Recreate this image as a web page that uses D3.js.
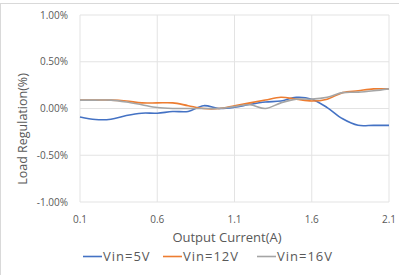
<!DOCTYPE html>
<html><head><meta charset="utf-8">
<script src="https://cdn.jsdelivr.net/npm/d3@7"></script>
<style>body{margin:0;background:#fff}svg{display:block;font-family:"Open Sans","Noto Sans","DejaVu Sans",sans-serif}</style>
</head><body>
<script>
const current = [0.1,0.2,0.3,0.4,0.5,0.6,0.7,0.8,0.9,1.0,1.1,1.2,1.3,1.4,1.5,1.6,1.7,1.8,1.9,2.0,2.1];
const vin5  = [-0.09,-0.118,-0.115,-0.075,-0.05,-0.05,-0.032,-0.032,0.03,0.0,0.013,0.045,0.07,0.08,0.12,0.10,0.01,-0.11,-0.18,-0.18,-0.18];
const vin12 = [0.09,0.09,0.09,0.08,0.06,0.06,0.06,0.03,0.0,0.0,0.03,0.06,0.09,0.12,0.10,0.08,0.10,0.17,0.19,0.21,0.21];
const vin16 = [0.09,0.09,0.09,0.07,0.04,0.01,0.0,0.0,0.0,0.0,0.02,0.04,0.0,0.06,0.10,0.10,0.12,0.17,0.175,0.19,0.21];
const seriesNames = ["Vin=5V","Vin=12V","Vin=16V"];
const colors = ["#4472C4","#ED7D31","#A5A5A5"];
const xTicks = [0.1,0.6,1.1,1.6,2.1];
const yTicks = [-1,-0.5,0,0.5,1];

const W=399,H=275;
const svg=d3.select("body").append("svg").attr("width",W).attr("height",H);
svg.append("rect").attr("x",0.5).attr("y",3.5).attr("width",W+10).attr("height",H+10).attr("fill","#fff").attr("stroke","#D9D9D9");
const x=d3.scaleLinear().domain([0.1,2.1]).range([80,389]);
const y=d3.scaleLinear().domain([-1,1]).range([202,15]);

const g=svg.append("g");
g.selectAll(".hg").data(yTicks).join("line").attr("x1",x(0.1)).attr("x2",x(2.1))
 .attr("y1",d=>y(d)).attr("y2",d=>y(d)).attr("stroke","#E3E3E3").attr("stroke-width",1);
g.selectAll(".vg").data(xTicks).join("line").attr("y1",y(-1)).attr("y2",y(1))
 .attr("x1",d=>x(d)).attr("x2",d=>x(d)).attr("stroke","#E3E3E3").attr("stroke-width",1);

const fmt=d=>d.toFixed(2)+"%";
g.selectAll(".yl").data(yTicks).join("text").attr("x",68).attr("y",d=>y(d)+3.5)
 .attr("text-anchor","end").attr("font-size",10).attr("fill","#595959").text(fmt);
g.selectAll(".xl").data(xTicks).join("text").attr("x",d=>x(d)).attr("y",223)
 .attr("text-anchor","middle").attr("font-size",10).attr("fill","#595959").text(d=>d.toString());

svg.append("text").attr("x",227).attr("y",242).attr("text-anchor","middle").attr("font-size",13).attr("fill","#595959").text("Output Current(A)");
svg.append("text").attr("transform","translate(27,129) rotate(-90)").attr("text-anchor","middle").attr("font-size",12.5).attr("fill","#595959").text("Load Regulation(%)");

const line=d3.line().x((d,i)=>x(current[i])).y(d=>y(d)).curve(d3.curveCatmullRom.alpha(0.5));
[vin5,vin12,vin16].forEach((s,k)=>{
  svg.append("path").datum(s).attr("d",line).attr("fill","none").attr("stroke",colors[k]).attr("stroke-width",1.6);
});

const legX=[83,163,257];
seriesNames.forEach((n,k)=>{
  svg.append("line").attr("x1",legX[k]).attr("x2",legX[k]+19).attr("y1",256.5).attr("y2",256.5).attr("stroke",colors[k]).attr("stroke-width",1.6);
  svg.append("text").attr("x",legX[k]+20).attr("y",261).attr("font-size",13).attr("letter-spacing",1).attr("fill","#595959").text(n);
});
</script>
</body></html>
